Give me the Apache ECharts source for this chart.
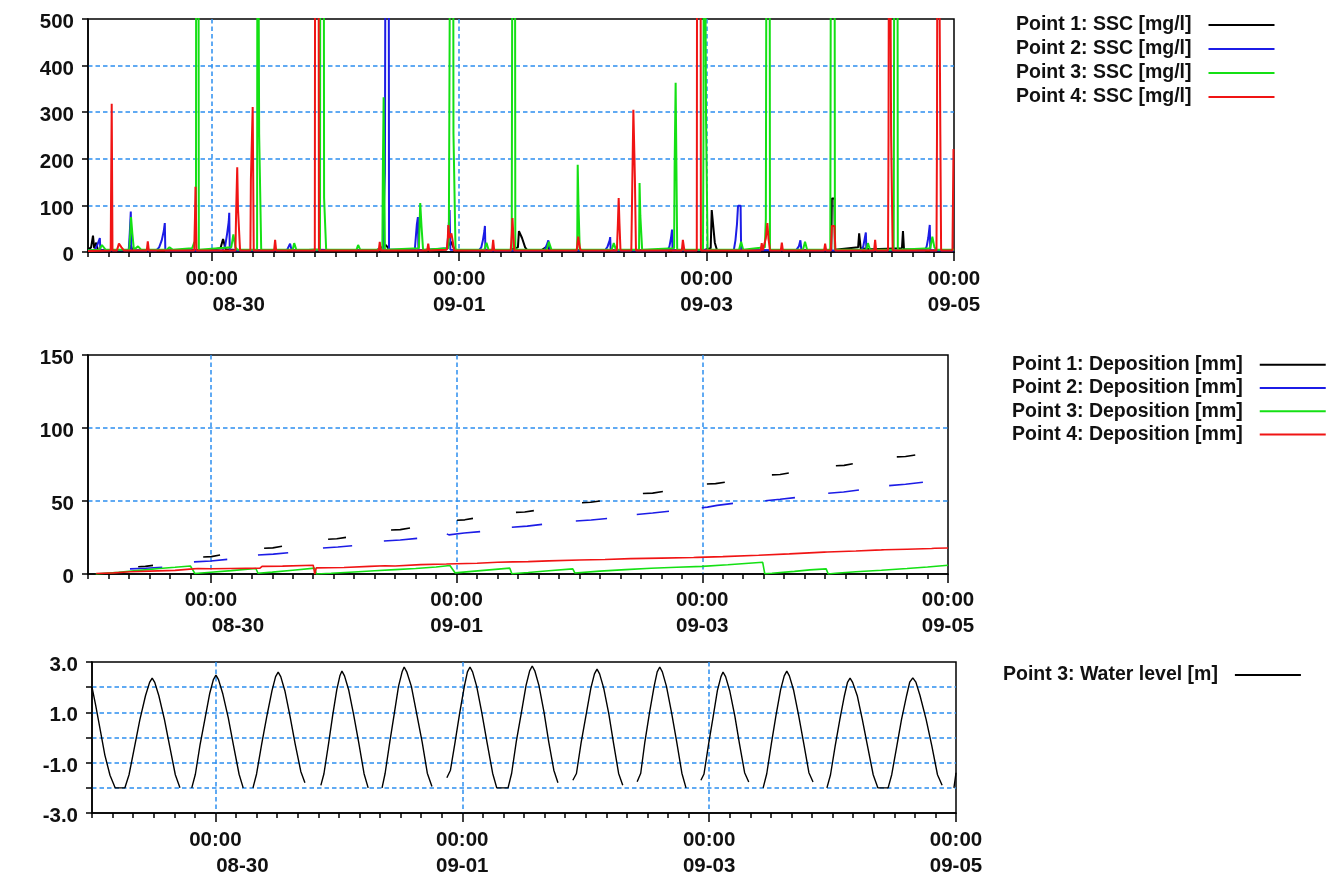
<!DOCTYPE html>
<html>
<head>
<meta charset="utf-8">
<script src="https://cdn.jsdelivr.net/npm/echarts@6/dist/echarts.min.js"></script>
<style>html,body{margin:0;padding:0;background:#fff}#c{width:1328px;height:881px}</style>
</head>
<body>
<div id="c"></div>
<script>
// ---- tick labels (x in hours since 08-29 00:00) ----
var xTickHours = [24, 72, 120, 168];
var xTickTimes = ['00:00', '00:00', '00:00', '00:00'];
var xTickDates = ['08-30', '09-01', '09-03', '09-05'];

// ---- legend names ----
var sscNames = ['Point 1: SSC [mg/l]', 'Point 2: SSC [mg/l]', 'Point 3: SSC [mg/l]', 'Point 4: SSC [mg/l]'];
var depNames = ['Point 1: Deposition [mm]', 'Point 2: Deposition [mm]', 'Point 3: Deposition [mm]', 'Point 4: Deposition [mm]'];
var wlName = 'Point 3: Water level [m]';

// ---- SSC [mg/l]  ([hour, value]) ----
var ssc1 = [[0,5],[0.6,10],[0.97,35],[1.2,8],[1.6,20],[1.9,5],[4,3],[8.0,3],[8.3,15],[8.6,3],[14,3],[20,4],[24,5],[25.7,8],[26.2,28],[26.7,6],[30,3],[40,3],[44,5],[50,4],[56,4],[57.8,15],[58.5,4],[64,3],[69.5,6],[70.4,22],[71,8],[71.6,3],[76,4],[82,5],[83.4,10],[83.6,45],[84.2,30],[84.8,10],[85.2,4],[88,4],[89.1,12],[89.6,4],[95,4],[100,4],[107,3],[113,4],[119,3],[120.8,8],[121.0,90],[121.3,55],[121.6,20],[122,5],[126,4],[132,3],[138,4],[144.2,5],[144.3,115],[144.8,115],[144.9,5],[149.4,10],[149.6,40],[149.9,8],[152,6],[157.9,8],[158.1,45],[158.3,6],[163,3],[168,3]];
var ssc2 = [[0,3],[1.3,5],[1.8,15],[2.3,30],[2.4,4],[7.9,4],[8.1,40],[8.3,87],[8.4,4],[13.2,3],[13.8,10],[14.3,25],[14.7,45],[14.9,62],[15.0,3],[26.0,3],[26.6,12],[27.0,40],[27.3,65],[27.4,84],[27.5,3],[38.6,4],[39.2,18],[39.5,4],[57.2,5],[57.4,95],[57.6,170],[57.8,1200],[58.3,1200],[58.4,5],[63.4,5],[63.8,60],[64.0,75],[64.1,3],[69.7,8],[70.0,60],[70.15,90],[70.3,5],[75.8,3],[76.3,10],[76.6,25],[76.9,45],[77.0,56],[77.1,3],[88.5,3],[89.0,15],[89.3,25],[89.6,4],[100.3,3],[100.8,12],[101.2,25],[101.3,32],[101.4,3],[112.4,3],[112.8,12],[113.1,30],[113.3,48],[113.4,3],[125.3,5],[125.6,25],[125.9,60],[126.1,99],[126.6,99],[126.7,4],[137.4,4],[137.9,12],[138.2,25],[138.4,4],[150.0,3],[150.4,12],[150.7,30],[150.9,42],[151.0,4],[162.3,3],[162.7,12],[163.0,30],[163.3,58],[163.4,3],[168,3]];
var ssc3 = [[0,4],[2.2,5],[2.7,15],[3.4,5],[8.0,5],[8.2,40],[8.35,75],[8.6,40],[8.9,5],[9.7,12],[10.3,5],[15.3,5],[15.8,10],[16.4,5],[20.2,8],[20.6,20],[20.95,25],[21.0,1200],[21.4,1200],[21.5,5],[27.8,10],[28.2,38],[28.6,10],[29.0,5],[32.8,5],[32.9,1200],[33.1,1200],[33.2,255],[33.5,255],[33.6,5],[39.7,5],[40.0,19],[40.4,5],[45.0,5],[45.1,1200],[45.7,1200],[45.8,116],[46.1,116],[46.2,5],[52.1,5],[52.4,15],[52.8,5],[57.1,5],[57.2,175],[57.35,332],[57.5,332],[57.6,5],[64.2,8],[64.45,105],[64.6,105],[64.7,55],[64.9,55],[65.0,5],[69.9,8],[70.0,35],[70.1,300],[70.3,300],[70.4,1200],[70.8,1200],[70.9,253],[71.2,253],[71.3,5],[76.9,5],[77.3,20],[77.7,5],[82.2,5],[82.4,1200],[82.8,1200],[82.9,5],[89.0,5],[89.4,22],[89.9,5],[94.9,5],[95.0,187],[95.15,100],[95.3,100],[95.4,5],[101.6,5],[102.0,19],[102.4,5],[106.9,5],[107.0,148],[107.15,78],[107.4,78],[107.5,5],[113.7,8],[113.8,182],[114.0,363],[114.2,363],[114.3,5],[119.3,5],[119.4,250],[119.5,1200],[119.8,1200],[119.9,283],[120.1,283],[120.2,5],[126.3,5],[126.7,22],[127.1,5],[131.3,10],[131.5,72],[131.7,1200],[132.2,1200],[132.3,5],[138.7,5],[139.1,22],[139.5,5],[144.0,5],[144.2,1200],[144.8,1200],[144.9,5],[151.0,5],[151.3,19],[151.7,5],[156.3,5],[156.5,1200],[157.0,1200],[157.1,5],[163.4,8],[163.8,33],[164.2,10],[164.6,5],[168,5]];
var ssc4 = [[0,2],[4.4,3],[4.5,161],[4.6,318],[4.75,3],[5.6,3],[6.0,18],[6.5,10],[7.0,3],[11.4,3],[11.6,23],[11.8,3],[20.6,3],[20.75,73],[20.85,140],[20.95,73],[21.05,3],[28.6,3],[28.75,92],[28.95,182],[29.1,92],[29.4,92],[29.5,3],[31.5,3],[31.6,155],[31.85,155],[31.95,311],[32.05,311],[32.15,3],[36.1,3],[36.3,26],[36.5,3],[44.0,3],[44.1,1200],[44.7,1200],[44.8,3],[56.4,3],[56.6,22],[56.8,3],[65.8,3],[66.0,18],[66.2,3],[69.6,5],[69.8,30],[69.9,58],[70.1,30],[70.5,40],[70.8,20],[71.0,3],[78.4,3],[78.6,26],[78.8,3],[82.0,3],[82.2,38],[82.35,73],[82.5,38],[82.7,3],[94.8,3],[95.1,33],[95.4,10],[95.6,3],[102.6,3],[102.8,62],[102.95,116],[103.1,62],[103.3,3],[105.4,3],[105.6,155],[105.8,305],[105.95,305],[106.1,155],[106.3,3],[115.2,3],[115.4,26],[115.7,3],[118.1,3],[118.2,1200],[118.8,1200],[118.9,3],[130.5,3],[130.7,19],[130.9,3],[131.2,3],[131.5,30],[131.8,62],[132.0,30],[132.3,3],[134.4,3],[134.6,20],[134.8,3],[142.8,3],[143.0,18],[143.2,3],[144.1,3],[144.3,56],[144.8,56],[145.0,3],[152.5,3],[152.7,26],[152.9,3],[155.2,3],[155.3,251],[155.45,1200],[155.7,1200],[155.8,251],[156.0,251],[156.1,3],[164.6,3],[164.7,251],[164.85,1200],[165.2,1200],[165.35,251],[165.5,3],[167.7,3],[167.9,221],[168,221]];

// ---- Deposition [mm] ----
var dep1 = [[9.8,5.0],[11.2,5.2],[11.4,5.7],[12.7,5.9],[13.5,'-'],[22.5,11.6],[24.1,11.9],[24.3,12.7],[25.8,13.0],[27,'-'],[34.4,17.6],[36.1,17.9],[36.3,18.7],[37.9,19.0],[39,'-'],[46.9,23.8],[48.6,24.1],[48.8,24.8],[50.4,25.1],[52,'-'],[59.2,30.1],[61.0,30.4],[61.2,31.2],[62.9,31.5],[64,'-'],[72.1,36.8],[73.6,37.1],[73.8,37.8],[75.2,38.1],[77,'-'],[83.6,42.2],[85.3,42.5],[85.5,43.1],[87.1,43.4],[89,'-'],[96.5,48.8],[98.2,49.1],[98.4,49.8],[100.0,50.0],[102,'-'],[108.4,55.1],[110.3,55.4],[110.5,56.2],[112.3,56.5],[114,'-'],[120.9,61.6],[122.6,61.9],[122.8,62.6],[124.4,62.9],[126,'-'],[133.6,67.9],[135.2,68.2],[135.4,68.9],[136.9,69.2],[138,'-'],[146.1,74.1],[147.7,74.4],[147.9,75.2],[149.4,75.5],[151,'-'],[158.0,80.2],[159.7,80.5],[159.9,81.2],[161.6,81.5]];
var dep2 = [[8.2,3.5],[11.3,3.9],[11.5,4.3],[14.5,4.6],[16,'-'],[20.7,8.3],[24.0,8.9],[24.2,9.6],[27.2,10.0],[29,'-'],[33.2,13.0],[36.2,13.6],[36.4,14.2],[39.1,14.6],[41,'-'],[45.9,17.8],[48.8,18.5],[49.0,19.0],[51.6,19.4],[53,'-'],[57.8,22.6],[61.0,23.3],[61.2,24.0],[64.3,24.4],[66,'-'],[70.1,27.5],[70.5,26.8],[70.8,27.6],[73.5,28.1],[73.7,28.7],[76.6,29.0],[78,'-'],[82.8,32.0],[85.8,32.8],[86.0,33.6],[88.7,34.0],[90,'-'],[95.3,36.3],[98.3,37.0],[98.5,37.6],[101.4,38.0],[103,'-'],[107.2,40.8],[110.3,41.8],[110.5,42.5],[113.5,43.0],[115,'-'],[119.9,45.4],[121.0,45.8],[122.9,47.0],[123.1,47.9],[126.0,48.4],[127,'-'],[132.3,50.2],[135.2,51.2],[135.4,51.9],[138.1,52.3],[140,'-'],[144.6,55.3],[147.6,56.2],[147.8,57.0],[150.6,57.5],[152,'-'],[156.5,60.5],[159.7,61.5],[159.9,62.3],[163.1,62.8]];
var dep3 = [[1.5,0.0],[6,1.2],[10,2.5],[14,3.8],[17,4.6],[20.0,5.5],[20.9,0.3],[24,1.2],[28,2.3],[32.8,3.8],[33.2,0.5],[36,1.3],[40,2.6],[44.3,4.0],[44.6,0.0],[47.5,0.5],[52,1.4],[56,2.2],[60,3.0],[64,3.8],[68,4.8],[70.7,5.8],[71.7,0.8],[75,1.8],[79,3.0],[82.4,4.0],[82.8,0.2],[86,1.0],[90,2.2],[94.7,3.5],[95.1,0.7],[100,2.0],[105,3.0],[110,3.9],[115,4.6],[120,5.2],[125,6.3],[131.8,8.0],[132.2,0.2],[133.6,0.5],[138,1.8],[141,2.8],[144.2,3.5],[144.6,0.0],[146,0.5],[150,1.5],[155,2.6],[160,3.8],[164,4.8],[168,6.0]];
var dep4 = [[1.6,0.3],[5,0.8],[8.2,1.5],[12,2.0],[17,2.5],[20.5,3.5],[21.5,3.8],[24,3.6],[28,3.8],[33.6,4.0],[34.0,5.2],[38,5.4],[44.0,6.0],[44.3,0.0],[44.6,4.2],[47,4.3],[50,4.5],[55,5.2],[58,5.6],[60,5.5],[65,6.4],[70,6.8],[72,7.0],[76,7.4],[80,8.0],[83,8.3],[86,8.5],[90,9.0],[96,9.6],[101,9.9],[106,10.5],[112,10.9],[118.3,11.3],[118.6,10.5],[119,11.4],[124,11.9],[131,12.8],[137,13.8],[143.8,15.0],[144.1,14.2],[144.4,15.1],[150,15.8],[155,16.5],[155.3,15.8],[155.6,16.6],[160,17.0],[164.8,17.5],[165.1,16.9],[165.4,17.6],[168,17.8]];

// ---- Water level [m] ----
var wl = [[0,2.0],[0.7,1.3],[1.6,0.3],[2.5,-0.7],[3.5,-1.5],[4.5,-2.0],[6.4,-2.0],
[7.2,-1.48],[8.3,-0.34],[9.3,0.7],[10.4,1.66],[11.2,2.19],[11.7,2.36],[12.2,2.19],[13.0,1.66],[14.1,0.7],[15.1,-0.34],[16.2,-1.48],[17.1,-2.0],[18.2,'-'],
[19.4,-2.0],[20.1,-1.46],[21.0,-0.30],[22.0,0.78],[22.9,1.76],[23.6,2.30],[24.1,2.48],[24.6,2.30],[25.4,1.76],[26.5,0.78],[27.5,-0.30],[28.6,-1.46],[29.4,-2.0],[30.3,'-'],
[31.3,-2.0],[32.0,-1.45],[33.0,-0.25],[34.0,0.85],[35.0,1.86],[35.7,2.42],[36.2,2.6],[36.7,2.42],[37.5,1.86],[38.5,0.85],[39.5,-0.25],[40.6,-1.35],[41.4,-1.8],[43.0,'-'],
[44.5,-1.9],[45.1,-1.44],[46.0,-0.24],[46.8,0.88],[47.6,1.90],[48.2,2.45],[48.6,2.64],[49.1,2.45],[49.9,1.90],[50.9,0.88],[51.9,-0.24],[52.9,-1.44],[53.7,-2.0],[55.0,'-'],
[56.4,-2.0],[57.0,-1.42],[57.9,-0.18],[58.8,0.98],[59.6,2.03],[60.3,2.61],[60.7,2.8],[61.2,2.61],[62.1,2.03],[63.1,0.98],[64.2,-0.18],[65.2,-1.42],[66.1,-1.95],[67.5,'-'],
[69.0,-1.6],[69.7,-1.3],[70.6,-0.18],[71.5,0.98],[72.4,2.03],[73.0,2.61],[73.5,2.8],[74.0,2.61],[74.8,2.03],[75.8,0.98],[76.8,-0.18],[77.9,-1.42],[78.7,-2.0],[80.9,-2.0],
[81.6,-1.42],[82.5,-0.16],[83.5,1.0],[84.4,2.07],[85.1,2.65],[85.6,2.84],[86.1,2.65],[86.9,2.07],[87.9,1.0],[88.8,-0.16],[89.8,-1.3],[90.6,-1.8],[92.0,'-'],
[93.5,-1.7],[94.2,-1.43],[95.1,-0.21],[96.1,0.93],[97.0,1.96],[97.7,2.53],[98.2,2.72],[98.7,2.53],[99.5,1.96],[100.5,0.93],[101.4,-0.21],[102.4,-1.43],[103.2,-1.9],[104.6,'-'],
[106.0,-1.76],[106.7,-1.42],[107.5,-0.18],[108.4,0.98],[109.3,2.03],[109.9,2.61],[110.4,2.8],[110.9,2.61],[111.7,2.03],[112.7,0.98],[113.7,-0.18],[114.7,-1.42],[115.5,-2.0],[117.0,'-'],
[118.4,-1.7],[119.0,-1.45],[119.9,-0.25],[120.8,0.85],[121.6,1.86],[122.3,2.42],[122.7,2.6],[123.2,2.42],[124.0,1.86],[125.0,0.85],[125.9,-0.25],[126.9,-1.4],[127.7,-1.77],[129.0,'-'],
[130.5,-2.0],[131.2,-1.44],[132.1,-0.24],[133.0,0.88],[133.9,1.90],[134.6,2.45],[135.1,2.64],[135.6,2.45],[136.4,1.90],[137.4,0.88],[138.4,-0.24],[139.4,-1.4],[140.2,-1.77],[141.5,'-'],
[142.9,-2.0],[143.6,-1.48],[144.5,-0.34],[145.4,0.70],[146.3,1.66],[146.9,2.19],[147.4,2.36],[147.9,2.19],[148.8,1.66],[149.8,0.70],[150.8,-0.34],[151.9,-1.48],[152.8,-2.0],[154.8,-2.0],
[155.5,-1.48],[156.5,-0.33],[157.4,0.71],[158.4,1.67],[159.0,2.20],[159.6,2.37],[160.2,2.20],[161.0,1.67],[162.2,0.71],[163.3,-0.33],[164.4,-1.48],[165.3,-1.9],[166.5,'-'],
[167.6,-2.0],[168,-1.4]];

var colors = ['#000000', '#1c1ce6', '#14e014', '#f01414'];
var FONT = "'Liberation Sans', Arial, sans-serif";
var GRID_BLUE = '#2d8ef0';

var chart = echarts.init(document.getElementById('c'), null, {renderer: 'canvas'});

function xLabelFmt(v) {
  var i = xTickHours.indexOf(v);
  if (i < 0) return '';
  if (i === 0) return '{t|' + xTickTimes[i] + '}\n{o|' + xTickDates[i] + '}';
  return '{t|' + xTickTimes[i] + '}\n{t|' + xTickDates[i] + '}';
}
var labelRich = {
  t: {fontFamily: FONT, fontWeight: 'bold', fontSize: 20.5, color: '#111', lineHeight: 26.5},
  o: {fontFamily: FONT, fontWeight: 'bold', fontSize: 20.5, color: '#111', lineHeight: 26.5, padding: [0, 0, 0, 54]}
};
var yRich = {
  a: {fontFamily: FONT, fontWeight: 'bold', fontSize: 20.5, color: '#111', padding: [7, 0, 0, 0]}
};

function xAxesFor(gi, margin) {
  return [
    {type: 'value', gridIndex: gi, position: 'bottom', min: 0, max: 168, interval: 4,
     axisLine: {show: true, onZero: false, lineStyle: {color: '#000', width: 1.5}},
     axisTick: {show: true, length: 5, lineStyle: {color: '#000', width: 1.5}},
     axisLabel: {show: false}, splitLine: {show: false}},
    {type: 'value', gridIndex: gi, position: 'bottom', min: 0, max: 168,
     axisLine: {show: false, onZero: false},
     axisTick: {show: true, length: 9, customValues: xTickHours, lineStyle: {color: '#000', width: 1.5}},
     axisLabel: {show: true, customValues: xTickHours, margin: margin, formatter: xLabelFmt, rich: labelRich,
                 fontFamily: FONT, fontWeight: 'bold', fontSize: 20.5, color: '#111', lineHeight: 26.5},
     splitLine: {show: true, showMaxLine: false, lineStyle: {color: GRID_BLUE, width: 1.5, type: [4.5, 3]}}}
  ];
}

function yAxisFor(gi, min, max, interval, fmt) {
  return {type: 'value', gridIndex: gi, min: min, max: max, interval: interval,
    axisLine: {show: true, onZero: false, lineStyle: {color: '#000', width: 1.5}},
    axisTick: {show: true, length: 6, lineStyle: {color: '#000', width: 1.5}},
    axisLabel: {show: true, margin: 14, fontFamily: FONT, fontWeight: 'bold', fontSize: 20.5, color: '#111',
                rich: yRich, formatter: function (v) { var s = fmt ? fmt(v) : String(v); return s ? '{a|' + s + '}' : ''; }},
    splitLine: {show: true, showMinLine: false, showMaxLine: false,
                lineStyle: {color: GRID_BLUE, width: 1.5, type: [4.5, 3]}}};
}

function lineSeries(name, data, color, xi, yi, w) {
  return {type: 'line', name: name, data: data, xAxisIndex: xi, yAxisIndex: yi,
    symbol: 'none', showSymbol: false, smooth: false, connectNulls: false, clip: true,
    lineStyle: {color: color, width: w}, itemStyle: {color: color}, color: color,
    emphasis: {disabled: true}, silent: true};
}

function legendFor(names, left, top, lh) {
  return {data: names, left: left, top: top, orient: 'vertical', align: 'right', padding: 0,
    icon: 'rect', itemWidth: 66, itemHeight: 2, itemGap: 0, selectedMode: false,
    textStyle: {fontFamily: FONT, fontWeight: 'bold', fontSize: 19.5, color: '#111', lineHeight: lh,
                padding: [0, 12, 0, 0]}};
}

var series = [];
var sscData = [ssc1, ssc2, ssc3, ssc4];
var depData = [dep1, dep2, dep3, dep4];
for (var k = 0; k < 4; k++) series.push(lineSeries(sscNames[k], sscData[k], colors[k], 0, 0, 2));
for (var k2 = 0; k2 < 4; k2++) series.push(lineSeries(depNames[k2], depData[k2], colors[k2], 2, 1, 1.6));
series.push(lineSeries(wlName, wl, '#000000', 4, 2, 1.4));

var option = {
  animation: false,
  backgroundColor: '#ffffff',
  grid: [
    {left: 88, top: 19, width: 866, height: 233, show: true, borderColor: '#000', borderWidth: 1.5, backgroundColor: 'transparent'},
    {left: 88, top: 355, width: 860, height: 219, show: true, borderColor: '#000', borderWidth: 1.5, backgroundColor: 'transparent'},
    {left: 92, top: 662, width: 864, height: 151, show: true, borderColor: '#000', borderWidth: 1.5, backgroundColor: 'transparent'}
  ],
  xAxis: [].concat(xAxesFor(0, 14), xAxesFor(1, 13), xAxesFor(2, 14)),
  yAxis: [
    yAxisFor(0, 0, 500, 100, null),
    yAxisFor(1, 0, 150, 50, null),
    yAxisFor(2, -3, 3, 1, function (v) { return (Math.abs(v) % 2 === 1) ? v.toFixed(1) : ''; })
  ],
  legend: [
    legendFor(sscNames, 1016, 13, 24),
    legendFor(depNames, 1012, 353, 23.3),
    legendFor([wlName], 1003, 663, 24)
  ],
  series: series
};
chart.setOption(option);
</script>
</body>
</html>
